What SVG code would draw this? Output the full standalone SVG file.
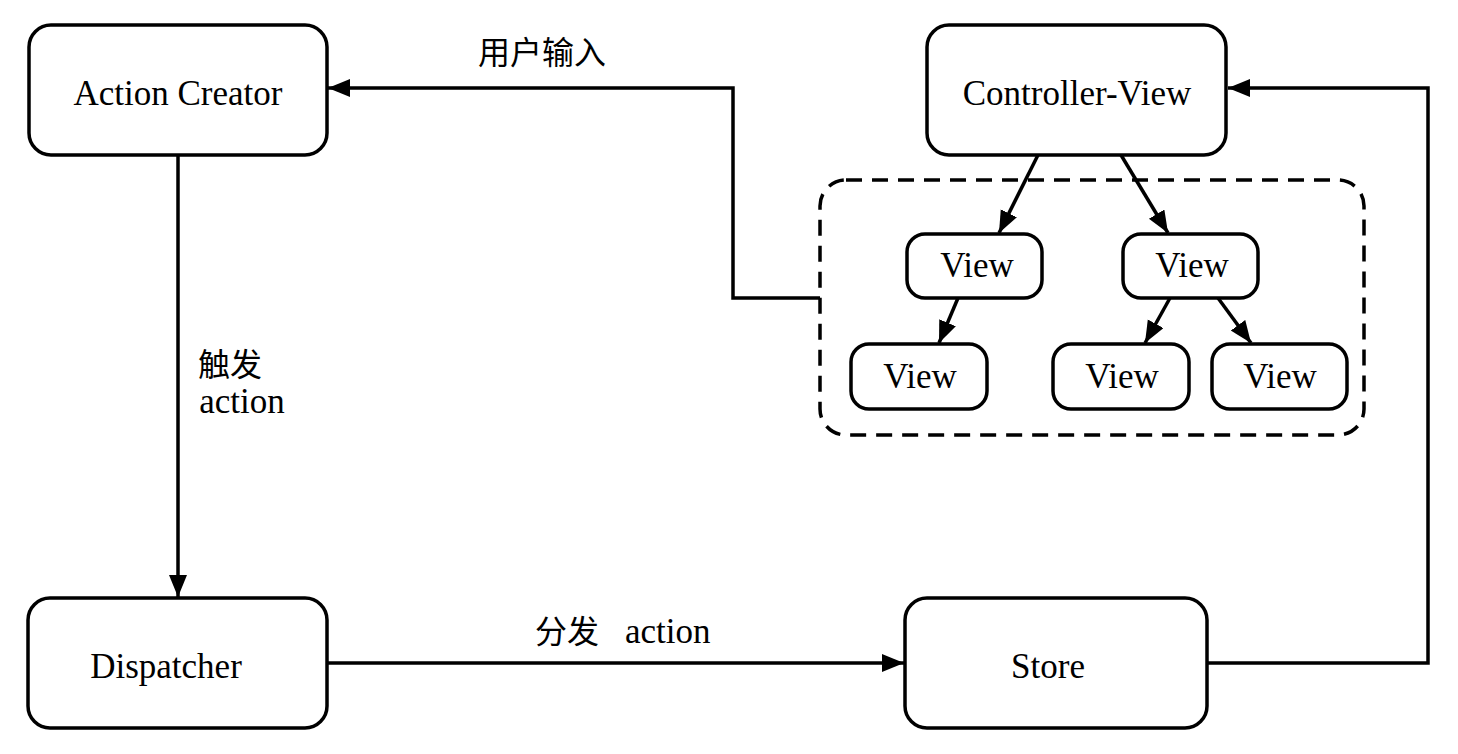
<svg xmlns="http://www.w3.org/2000/svg" width="1458" height="754" viewBox="0 0 1458 754">
<style>
.box{fill:#fff;stroke:#000;stroke-width:3.5}
.lbl{font-family:"Liberation Serif","Times New Roman",serif;font-size:35px;fill:#000;text-anchor:middle}
.cn{font-family:"Liberation Serif","Noto Sans CJK SC",serif;font-size:32px;fill:#000}
.edge{fill:none;stroke:#000;stroke-width:3.5}
</style>
<defs>
<marker id="ah" markerUnits="userSpaceOnUse" markerWidth="24" markerHeight="20" refX="22" refY="9" orient="auto">
<path d="M0,0 L22,9 L0,18 z" fill="#000"/>
</marker>
</defs>
<rect x="0" y="0" width="1458" height="754" fill="#fff"/>
<g id="connectors">
<path class="edge" d="M178,155 V597" marker-end="url(#ah)"/>
<path class="edge" d="M327,663 H904" marker-end="url(#ah)"/>
<path class="edge" d="M1207,663 H1428 V88 H1228" marker-end="url(#ah)"/>
<path class="edge" d="M820,298 H733 V88 H328" marker-end="url(#ah)"/>
<path class="edge" d="M1038,155 L999,233" marker-end="url(#ah)"/>
<path class="edge" d="M1121,155 L1168,233" marker-end="url(#ah)"/>
<path class="edge" d="M958,298 L939,343" marker-end="url(#ah)"/>
<path class="edge" d="M1170,298 L1145,343" marker-end="url(#ah)"/>
<path class="edge" d="M1218,298 L1251,343" marker-end="url(#ah)"/>
<text class="cn" x="478" y="64">用户输入</text>
<text class="cn" x="198" y="376">触发</text>
<text class="lbl" x="242" y="413">action</text>
<text class="cn" x="535" y="643">分发<tspan x="625" font-family="Liberation Serif" font-size="35">action</tspan></text>
</g>
<g id="group-views">
<rect x="820" y="180" width="544" height="255" rx="26" fill="none" stroke="#000" stroke-width="3.5" stroke-dasharray="16,10"/>
</g>
<g id="action-creator">
<rect class="box" x="29" y="25" width="298" height="130" rx="22"/>
<text class="lbl" x="178" y="105">Action Creator</text>
</g>
<g id="controller-view">
<rect class="box" x="927" y="25" width="299" height="130" rx="22"/>
<text class="lbl" x="1077" y="105">Controller-View</text>
</g>
<g id="dispatcher">
<rect class="box" x="28" y="598" width="299" height="130" rx="22"/>
<text class="lbl" x="166" y="678">Dispatcher</text>
</g>
<g id="store">
<rect class="box" x="905" y="598" width="302" height="130" rx="22"/>
<text class="lbl" x="1048" y="678">Store</text>
</g>
<g id="view-a">
<rect class="box" x="907" y="234" width="135" height="64" rx="18"/>
<text class="lbl" x="977" y="277">View</text>
</g>
<g id="view-b">
<rect class="box" x="1123" y="234" width="135" height="64" rx="18"/>
<text class="lbl" x="1192" y="277">View</text>
</g>
<g id="view-c">
<rect class="box" x="851" y="344" width="136" height="65" rx="18"/>
<text class="lbl" x="920" y="388">View</text>
</g>
<g id="view-d">
<rect class="box" x="1053" y="344" width="136" height="65" rx="18"/>
<text class="lbl" x="1122" y="388">View</text>
</g>
<g id="view-e">
<rect class="box" x="1212" y="344" width="135" height="65" rx="18"/>
<text class="lbl" x="1280" y="388">View</text>
</g>
</svg>
